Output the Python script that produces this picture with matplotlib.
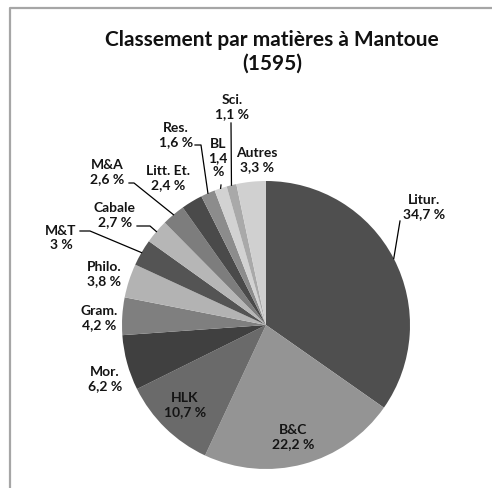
import numpy as np
import matplotlib.pyplot as plt

plt.rcParams['font.family'] = ['Lato', 'DejaVu Sans']

subjects = ["Litur.", "B&C", "HLK", "Mor.", "Gram.", "Philo.", "M&T", "Cabale",
            "M&A", "Litt. Et.", "Res.", "BL", "Sci.", "Autres"]
shares = [34.7, 22.2, 10.7, 6.2, 4.2, 3.8, 3.0, 2.7, 2.6, 2.4, 1.6, 1.4, 1.1, 3.3]
greys = ["#4f4f4f", "#949494", "#6a6a6a", "#404040", "#7f7f7f", "#b3b3b3", "#545454",
         "#b6b6b6", "#7d7d7d", "#4a4a4a", "#8c8c8c", "#d2d2d2", "#a9a9a9", "#d0d0d0"]

W, H = 492, 488          # canvas in pixels
CX, CY, R = 266, 325, 144  # pie centre / radius, pixels from the top-left corner


def up(y):
    return H - y


def fr(v):
    s = f"{v:.1f}".replace(".", ",")
    if s.endswith(",0"):
        s = s[:-2]
    return s + " %"


# label centres (px from top-left)
label_pos = {
    "Litur.": (424, 207), "B&C": (293, 437), "HLK": (185, 405), "Mor.": (105, 379),
    "Gram.": (99, 318), "Philo.": (104, 274), "M&T": (61, 238), "Cabale": (115, 215),
    "M&A": (107, 172), "Litt. Et.": (168, 178), "Res.": (176, 135), "BL": (218, 158),
    "Sci.": (232, 107), "Autres": (257, 160),
}
# leader lines: points near the label, the slice end is added from the wedge angle
leaders = {
    "Litur.": [(400, 221)],
    "Res.": [(195, 145), (201, 145)],
    "BL": [(221, 185)],
    "Sci.": [(231, 123)],
    "M&A": [(129, 183), (134, 183)],
    "Cabale": [(137, 226), (150, 226)],
    "M&T": [(80, 231), (90, 231)],
}

fig = plt.figure(figsize=(W / 100, H / 100), dpi=100)
ax = fig.add_axes([0, 0, 1, 1])

wedges, _ = ax.pie(shares, colors=greys, startangle=90, counterclock=False,
                   center=(CX, up(CY)), radius=R, wedgeprops=dict(linewidth=0))
ax.set_xlim(0, W)
ax.set_ylim(0, H)
ax.axis("off")

for w, name, v in zip(wedges, subjects, shares):
    txt = f"{name}\n{fr(v)}"
    if name == "BL":
        txt = txt.replace(" %", "\n%")
    x, y = label_pos[name]
    ax.text(x, up(y), txt, ha="center", va="center", fontsize=10,
            fontweight="bold", color="#141414", linespacing=1.2)
    if name in leaders:
        mid = np.deg2rad((w.theta1 + w.theta2) / 2)
        pts = [(px, up(py)) for px, py in leaders[name]]
        pts.append((CX + R * np.cos(mid), up(CY) + R * np.sin(mid)))
        xs, ys = zip(*pts)
        ax.plot(xs, ys, color="black", lw=0.9)

# chart frame (only the top and left edges fall inside the canvas)
ax.plot([10, 10, W], [0, up(8), up(8)], color="#a6a6a6", lw=1.6, clip_on=False)

fig.text(272 / W, up(52) / H, "Classement par matières à Mantoue\n(1595)",
         ha="center", va="center", fontsize=15, fontweight="bold",
         color="#111111", linespacing=1.25)

fig.savefig("out.png", dpi=100)
